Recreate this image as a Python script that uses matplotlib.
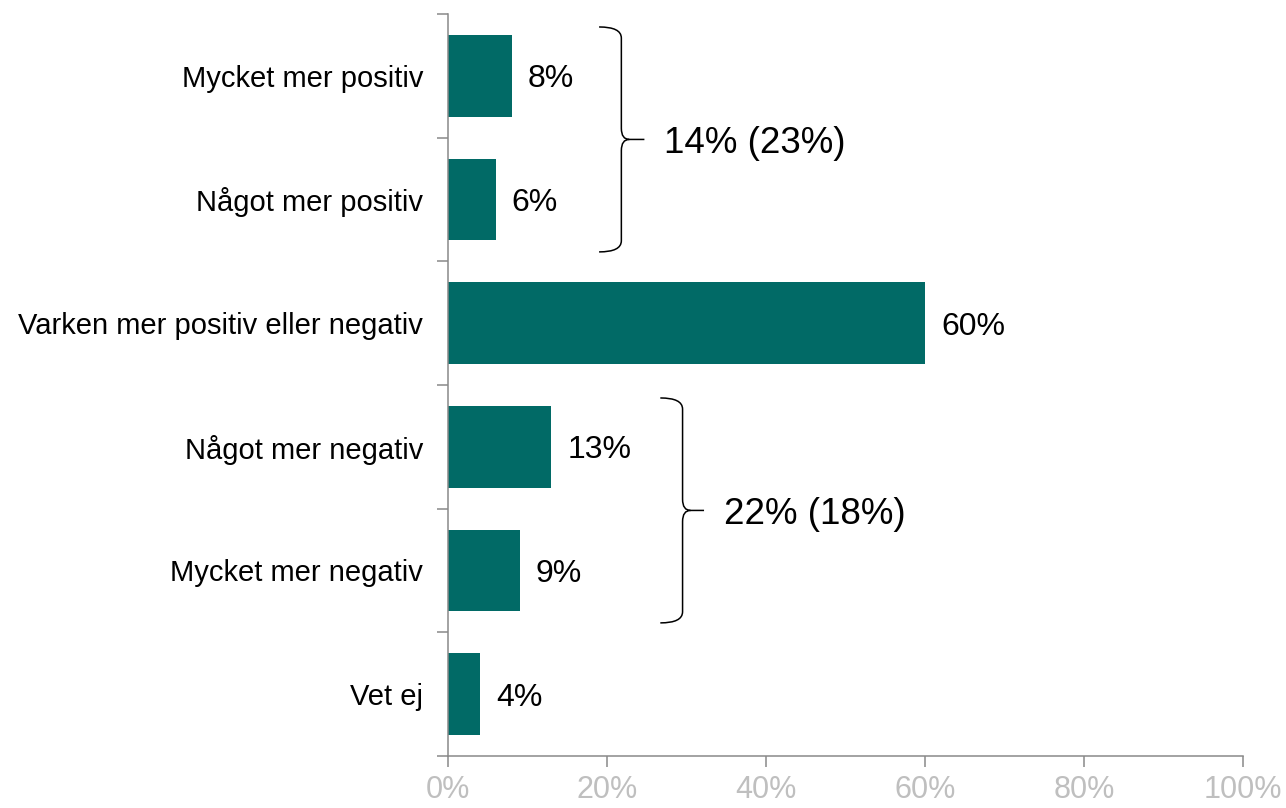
import matplotlib.pyplot as plt
from matplotlib.path import Path
from matplotlib.patches import PathPatch
from matplotlib.ticker import MultipleLocator, FixedLocator

# data
categories = ["Mycket mer positiv", "Något mer positiv", "Varken mer positiv eller negativ",
              "Något mer negativ", "Mycket mer negativ", "Vet ej"]
values = [8, 6, 60, 13, 9, 4]
x_ticks = [0, 20, 40, 60, 80, 100]
group_labels = ["14% (23%)", "22% (18%)"]
group_rows = [(0, 1), (3, 4)]

bar_color = "#016a66"
spine_color = "#898989"

plt.rcParams['font.family'] = ['Liberation Sans', 'DejaVu Sans']

fig = plt.figure(figsize=(12.86, 8.08), dpi=100)
ax = fig.add_axes([0.3484, 0.0644, 0.9666 - 0.3484, 0.9827 - 0.0644])

ypos = list(range(len(categories)))
ax.barh(ypos, values, height=0.66, color=bar_color)

for y, v in zip(ypos, values):
    ax.annotate(f"{v}%", (v, y), xytext=(11.5, 0), textcoords="offset points",
                va="center_baseline", ha="left", fontsize=23, color="black")

ax.set_xlim(0, 100)
ax.set_ylim(len(categories) - 0.5, -0.5)

# x axis
ax.xaxis.set_major_locator(FixedLocator(x_ticks))
ax.set_xticklabels([f"{t}%" for t in x_ticks], fontsize=22, color="#bfbfbf")
ax.tick_params(axis="x", length=8, width=1.1, color=spine_color, pad=6)

# y axis: labels at centres, ticks between categories
ax.set_yticks(ypos)
ax.set_yticklabels(categories, fontsize=21, va="center_baseline")
ax.yaxis.set_minor_locator(MultipleLocator(1, offset=0.5))
ax.tick_params(axis="y", which="major", length=0, pad=18)
ax.tick_params(axis="y", which="minor", length=8, width=1.1, color=spine_color)

for side in ["top", "right"]:
    ax.spines[side].set_visible(False)
for side in ["left", "bottom"]:
    ax.spines[side].set_color(spine_color)
    ax.spines[side].set_linewidth(1.1)


def brace(x0, xv, xtip, yt, yb, rx=1.0, ry=0.09):
    ym = (yt + yb) / 2
    verts = [(x0, yt), (xv, yt), (xv, yt + ry),
             (xv, ym - ry), (xv, ym), (xv + rx, ym),
             (xtip, ym),
             (xv + rx, ym), (xv, ym), (xv, ym + ry),
             (xv, yb - ry), (xv, yb), (x0, yb)]
    codes = [Path.MOVETO, Path.CURVE3, Path.CURVE3,
             Path.LINETO, Path.CURVE3, Path.CURVE3,
             Path.LINETO,
             Path.MOVETO, Path.CURVE3, Path.CURVE3,
             Path.LINETO, Path.CURVE3, Path.CURVE3]
    ax.add_patch(PathPatch(Path(verts, codes), fill=False, lw=1.1, color="black",
                           clip_on=False))
    return ym


brace_x = [(19.0, 21.8, 24.7), (26.7, 29.5, 32.2)]
for (r0, r1), (x0, xv, xt), label in zip(group_rows, brace_x, group_labels):
    ym = brace(x0, xv, xt, r0 - 0.395, r1 + 0.424)
    ax.text(xt + 2.5, ym, label, fontsize=26.5, va="center_baseline", ha="left")

fig.savefig("out.png", dpi=100)
